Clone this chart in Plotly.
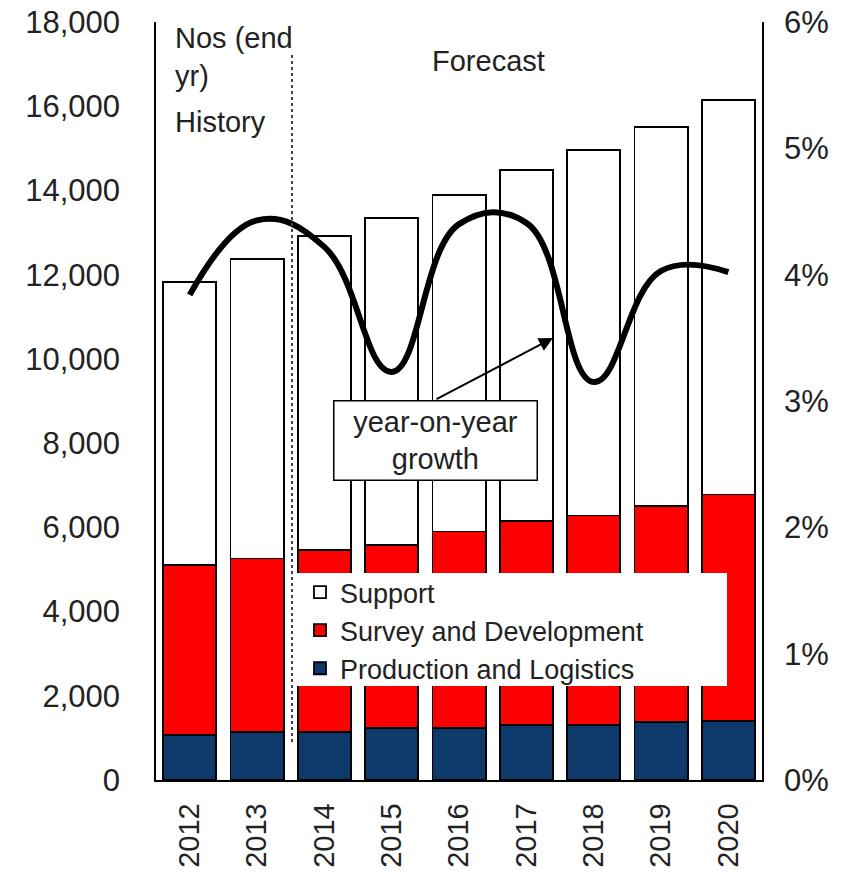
import plotly.graph_objects as go

# data
years = ["2012", "2013", "2014", "2015", "2016", "2017", "2018", "2019", "2020"]
production = [1070, 1140, 1140, 1230, 1230, 1310, 1310, 1370, 1410]
survey = [4040, 4120, 4330, 4360, 4670, 4850, 4970, 5140, 5370]
support = [6710, 7110, 7440, 7750, 7990, 8320, 8680, 9000, 9370]
growth = [0.0384, 0.0443, 0.0422, 0.0323, 0.0440, 0.0441, 0.0315, 0.0403, 0.0402]

W, H = 853, 883
PLOT_L, PLOT_R, PLOT_T, PLOT_B = 156, 762, 22, 780   # plot area in pixels
FONT = "Liberation Sans, Arial, sans-serif"
TXT = "#222222"


def px(x):
    return (x - PLOT_L) / (PLOT_R - PLOT_L)


def py(y):
    return (PLOT_B - y) / (PLOT_B - PLOT_T)


fig = go.Figure()

fig.add_trace(go.Scatter(
    x=years, y=growth, yaxis="y2", mode="lines", showlegend=False,
    line=dict(color="black", width=6, shape="spline", smoothing=1.2),
))
fig.add_trace(go.Bar(x=years, y=production, name="Production and Logistics",
                     marker=dict(color="#0D3A6B", line=dict(color="black", width=1.8))))
fig.add_trace(go.Bar(x=years, y=survey, name="Survey and Development",
                     marker=dict(color="#FF0000", line=dict(color="black", width=1.8))))
fig.add_trace(go.Bar(x=years, y=support, name="Support",
                     marker=dict(color="white", line=dict(color="black", width=1.8))))

ytick_font = dict(family=FONT, size=31, color=TXT)
xtick_font = dict(family=FONT, size=29, color=TXT)

fig.update_layout(
    width=W, height=H,
    margin=dict(l=PLOT_L, r=W - PLOT_R, t=PLOT_T, b=H - PLOT_B),
    barmode="stack", bargap=0.21,
    paper_bgcolor="white", plot_bgcolor="white",
    font=dict(family=FONT, color=TXT),
    xaxis=dict(type="category", tickangle=-90, tickfont=xtick_font, showline=True,
               linecolor="black", linewidth=1.5, showgrid=False, ticks="",
               ticklabelstandoff=10, automargin=False),
    yaxis=dict(range=[0, 18000], dtick=2000, tickformat=",", tickfont=ytick_font,
               showline=True, linecolor="black", linewidth=1.5, showgrid=False,
               zeroline=False, ticks="", ticklabelstandoff=28, automargin=False,
               ticklabeloverflow="allow"),
    yaxis2=dict(range=[0, 0.06], dtick=0.01, tickformat=".0%", tickfont=ytick_font,
                overlaying="y", side="right", showline=True, linecolor="black",
                linewidth=1.5, showgrid=False, zeroline=False, ticks="",
                ticklabelstandoff=14, automargin=False, ticklabeloverflow="allow"),
    legend=dict(x=px(300), y=py(568), xanchor="left", yanchor="top",
                bgcolor="rgba(0,0,0,0)", borderwidth=0, traceorder="reversed",
                font=dict(family=FONT, size=27, color=TXT), itemwidth=30),
)

# white panel behind the legend, wider than the legend's own box
fig.add_shape(type="rect", xref="paper", yref="paper", layer="above",
              x0=px(297), x1=px(727), y0=py(686), y1=py(573),
              fillcolor="white", line=dict(width=0))

# history / forecast divider
fig.add_shape(type="line", xref="paper", yref="paper",
              x0=px(292), x1=px(292), y0=py(55), y1=py(745),
              line=dict(color="#444444", width=2, dash="dot"))

ann_font = dict(family=FONT, size=29, color=TXT)
for text, x, y in [("Nos (end<br>yr)", 173, 20), ("History", 173, 104),
                   ("Forecast", 430, 43)]:
    fig.add_annotation(text=text, xref="paper", yref="paper", x=px(x), y=py(y),
                       xanchor="left", yanchor="top", align="left",
                       showarrow=False, font=ann_font)

fig.add_annotation(text="year-on-year<br>growth", xref="paper", yref="paper",
                   x=px(435), y=py(440), xanchor="center", yanchor="middle",
                   showarrow=False, font=dict(family=FONT, size=29, color=TXT),
                   bgcolor="white", bordercolor="black", borderwidth=1.5,
                   width=200, height=76)

fig.add_annotation(text="", xref="paper", yref="paper", x=px(553), y=py(338),
                   ax=435 - 553, ay=400 - 338, showarrow=True, arrowhead=2,
                   arrowsize=1.4, arrowwidth=2, arrowcolor="black")

# drop the default page margin so the figure sits at the window's corner
fig.write_html("out.html", config={"displayModeBar": False},
               post_script="document.body.style.margin = '0';")
